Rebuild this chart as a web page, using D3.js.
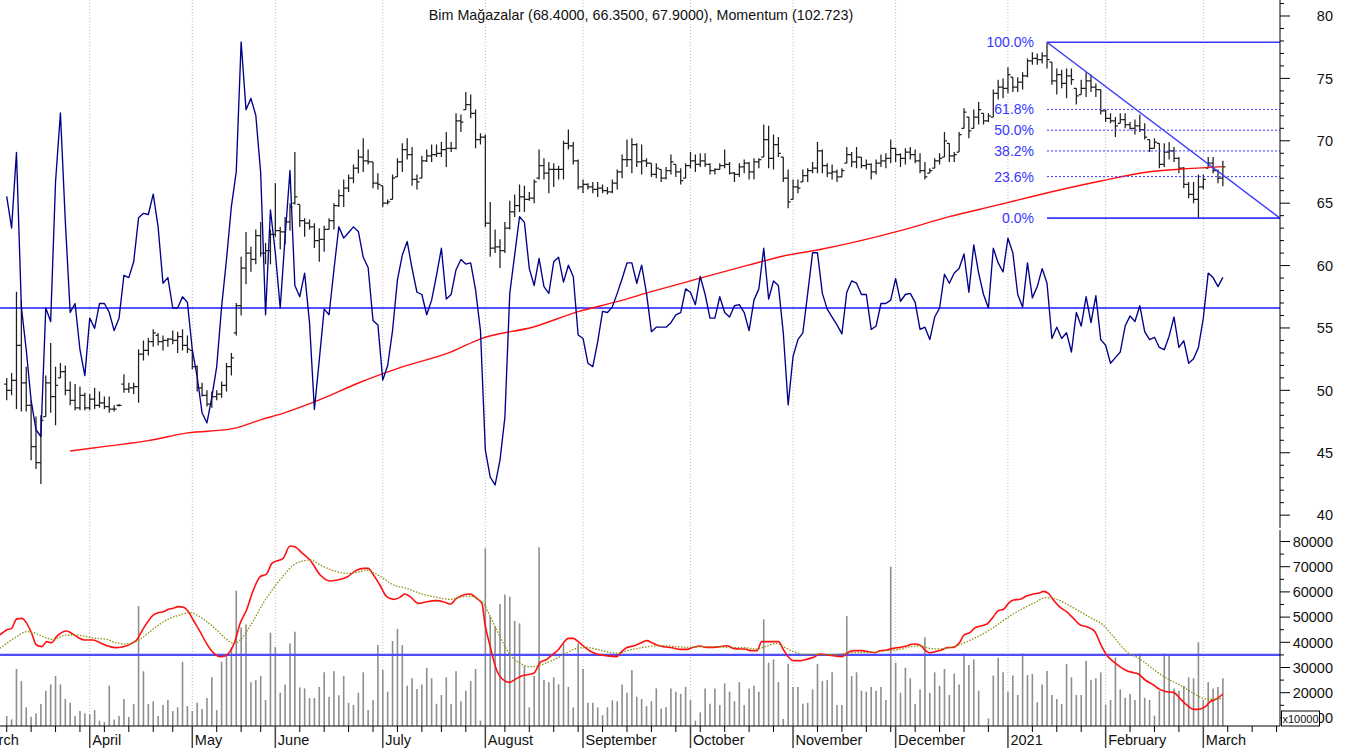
<!DOCTYPE html>
<html><head><meta charset="utf-8">
<script src="https://cdn.jsdelivr.net/npm/d3@7"></script>
<style>
body{margin:0;background:#fff}
svg{display:block}
text{font-family:"Liberation Sans",Arial,Helvetica,sans-serif}
</style></head>
<body><svg id="c" width="1346" height="753"></svg>
<script>
// ---------------- DATA ----------------
const titleText = "Bim Mağazalar (68.4000, 66.3500, 67.9000), Momentum (102.723)";
const high=[51.0,51.4,57.9,57.2,51.9,49.2,47.9,48.0,51.2,53.8,
51.9,52.2,52.0,50.7,50.5,50.3,49.8,49.7,50.2,49.9,
49.5,49.5,48.8,48.9,51.3,50.6,50.6,53.3,54.0,54.2,
54.9,54.6,54.4,54.2,54.8,54.7,54.9,54.4,53.2,52.0,
50.6,50.0,49.9,50.0,50.7,52.2,53.0,57.0,60.7,62.7,
61.5,62.9,63.5,61.8,62.9,66.6,63.1,63.9,65.0,69.1,
64.9,63.8,63.7,63.4,63.0,63.2,63.8,65.0,66.1,66.9,
67.3,68.1,69.3,70.2,69.3,68.3,67.4,66.4,65.3,67.3,
68.6,69.8,70.2,69.5,67.3,68.8,69.3,69.7,69.7,69.9,
70.7,69.9,72.2,72.1,73.9,73.7,72.5,70.6,70.5,65.1,
62.9,62.1,63.5,65.2,65.7,66.5,66.4,65.9,66.9,69.3,
68.6,68.3,68.2,68.0,70.0,70.9,69.9,68.5,66.9,66.6,
66.7,66.7,66.5,66.3,66.9,67.7,68.9,70.1,70.2,69.8,
69.7,68.6,68.2,68.2,67.7,67.9,68.9,68.1,67.8,68.2,
69.1,68.9,69.0,69.0,68.2,67.8,68.2,69.3,68.3,67.5,
68.2,68.5,68.3,68.6,68.6,71.3,71.2,70.5,70.3,68.7,
67.7,66.9,66.9,67.7,67.8,68.3,69.9,69.3,68.2,68.1,
67.7,67.8,69.5,69.1,69.5,68.7,68.5,68.2,68.5,68.9,
69.0,70.1,69.4,69.0,69.4,69.5,69.3,69.0,68.3,67.8,
68.6,69.0,70.7,69.8,69.1,70.7,72.6,71.9,72.5,73.1,
72.2,72.2,74.1,74.9,75.0,75.9,75.1,75.1,75.5,76.6,
77.1,77.0,77.1,77.9,76.3,75.8,75.7,75.8,75.8,74.2,
74.9,75.5,75.3,74.6,74.1,72.5,72.2,71.9,72.2,72.2,
71.5,71.7,72.1,71.4,70.1,70.2,69.8,69.8,69.9,69.5,
68.7,67.9,66.7,66.7,67.3,67.3,68.7,68.7,67.7,68.4];
const low=[49.2,49.6,48.5,48.3,48.3,44.4,43.7,42.5,47.9,48.2,
47.2,51.0,49.6,48.8,48.4,48.4,48.4,48.4,48.5,48.6,
48.5,48.2,48.3,48.7,49.8,49.8,49.7,49.0,52.4,52.8,
53.5,53.6,53.2,53.5,53.7,53.0,53.2,53.0,51.7,49.9,
49.5,48.7,48.6,49.2,49.4,49.9,51.2,54.4,56.0,58.5,
59.5,60.1,60.7,60.1,60.1,62.3,61.3,61.7,62.8,64.9,
63.1,62.3,62.9,61.4,60.3,61.1,62.9,62.9,64.7,64.7,
65.9,66.6,67.4,67.5,68.1,66.2,66.1,64.7,64.9,65.3,
67.1,67.5,68.5,66.4,66.1,67.0,68.3,68.3,68.7,68.7,
67.9,69.1,69.3,70.7,72.5,71.8,69.4,69.7,63.1,60.7,
61.0,59.8,61.0,62.9,63.9,64.3,64.3,65.2,65.0,66.9,
66.9,65.8,66.3,66.9,66.9,69.3,68.1,66.1,65.8,66.1,
65.8,65.5,65.8,65.7,65.8,66.1,67.0,67.9,67.4,67.9,
67.3,67.9,67.1,67.0,66.7,66.9,67.3,67.1,66.5,67.0,
67.8,67.5,67.9,67.9,67.3,67.3,67.7,67.8,67.3,66.7,
67.1,67.4,66.9,66.9,67.8,68.7,67.8,67.7,68.7,66.7,
64.6,65.3,65.8,66.7,66.7,67.4,67.4,67.4,67.1,66.9,
66.7,67.1,68.2,67.9,67.8,67.8,67.7,66.9,67.3,67.9,
67.8,68.2,68.3,67.9,68.1,68.5,68.2,67.4,66.9,67.4,
67.8,68.1,68.7,68.3,68.3,69.1,71.0,70.2,71.0,71.3,
71.3,71.5,71.9,73.3,73.4,73.8,73.9,73.9,74.1,75.1,
76.1,76.1,76.2,75.8,74.5,73.7,74.2,73.4,74.5,72.9,
73.7,73.5,73.9,73.5,72.1,71.5,71.4,70.3,71.4,71.0,
70.9,70.5,70.7,70.1,69.1,69.4,67.8,67.9,68.5,68.3,
67.4,66.2,65.4,65.0,63.8,66.1,67.8,67.4,66.6,66.35];
const open=[50.5,50.0,50.8,53.6,50.6,48.8,45.5,44.2,47.9,50.6,
49.5,51.0,51.5,50.0,49.2,48.6,49.6,48.6,49.3,48.8,
49.0,48.7,48.5,48.8,50.5,50.1,50.2,50.3,52.9,53.2,
53.9,54.4,53.9,54.0,54.1,54.0,54.3,53.6,53.2,51.9,
50.2,49.6,48.9,49.5,49.7,50.4,51.9,54.6,56.8,59.8,
61.0,60.5,62.4,61.0,61.2,62.5,62.8,62.7,63.5,65.0,
64.9,63.6,63.4,63.1,62.0,62.1,62.9,63.6,64.8,65.6,
66.2,67.0,67.8,68.7,68.4,68.3,66.6,66.4,65.0,65.3,
67.1,68.3,69.3,68.9,66.9,67.0,68.4,68.8,68.9,69.0,
69.3,69.4,69.4,71.6,72.5,72.9,72.2,70.1,70.3,63.4,
61.4,61.5,61.2,63.0,64.3,64.8,65.5,65.3,65.4,67.0,
68.0,67.4,67.7,67.7,67.7,69.8,69.6,68.4,66.3,66.5,
66.3,66.1,66.2,66.0,65.9,66.6,67.5,68.5,68.5,69.7,
68.3,68.4,68.2,67.3,67.7,67.0,67.6,68.1,67.5,67.0,
68.0,68.4,68.1,68.4,68.1,67.6,67.7,68.0,68.1,67.4,
67.3,67.9,68.2,67.5,68.3,68.7,70.1,68.6,69.7,68.7,
67.0,65.3,66.3,66.7,67.2,67.6,67.8,69.2,68.0,67.4,
67.5,67.1,68.2,68.9,68.3,68.7,68.0,68.1,67.5,68.2,
68.4,68.6,69.4,68.9,68.6,69.1,68.9,68.4,67.6,67.4,
67.8,68.4,68.7,69.8,68.8,69.1,71.0,71.9,71.0,71.9,
72.2,71.6,71.9,73.8,74.3,74.2,75.1,74.3,74.7,75.2,
76.4,76.6,76.5,76.8,76.3,74.8,75.3,74.6,75.2,74.2,
73.7,74.2,74.8,74.3,74.1,72.4,71.8,71.6,71.4,71.7,
71.3,71.0,71.2,70.9,70.1,69.4,69.8,68.1,69.1,69.2,
68.6,67.8,66.5,65.7,65.3,66.3,67.8,68.2,67.6,67.0];
const close=[50.0,50.8,53.6,50.6,48.8,45.5,44.2,47.6,50.6,49.5,
50.4,51.5,50.0,49.2,48.6,49.6,48.6,49.3,48.8,49.0,
48.7,48.5,48.5,48.8,50.1,50.2,50.3,52.9,53.2,53.9,
54.6,53.9,54.0,54.1,54.0,54.3,53.6,53.3,51.9,50.2,
49.6,48.9,49.5,49.7,50.4,51.9,52.6,56.8,59.8,61.0,
60.5,62.4,61.0,61.2,62.5,62.8,62.7,63.5,64.7,65.5,
63.6,63.4,63.1,62.0,62.1,62.9,63.6,64.8,65.6,66.2,
67.0,67.8,68.7,68.4,68.3,66.6,66.5,65.0,65.1,67.0,
68.3,69.3,68.9,66.9,66.7,68.4,68.8,68.9,69.0,69.3,
69.4,69.4,71.6,71.5,72.9,72.2,70.1,70.3,63.4,61.4,
61.5,61.2,63.0,64.3,64.8,65.5,65.3,65.4,66.7,68.0,
67.4,67.7,67.7,67.7,69.8,69.6,68.4,66.3,66.5,66.3,
66.1,66.2,66.0,65.9,66.6,67.5,68.5,68.5,69.7,68.3,
68.4,68.2,67.3,67.8,67.0,67.6,68.3,67.5,66.8,68.0,
68.4,68.1,68.4,68.1,67.6,67.7,68.0,68.1,67.4,67.3,
67.9,68.2,67.5,68.3,68.5,70.1,68.6,69.7,69.0,67.0,
65.1,66.3,66.2,67.2,67.6,67.8,69.2,68.0,67.4,67.5,
67.1,67.6,68.9,68.3,68.7,68.0,68.1,67.5,68.2,68.4,
68.6,69.4,68.9,68.6,69.1,68.9,68.4,67.6,67.1,67.6,
68.4,68.6,70.0,68.8,68.9,70.5,72.3,70.8,71.9,72.5,
71.6,72.0,73.8,74.3,74.2,75.3,74.3,74.7,75.2,76.4,
76.6,76.5,76.8,76.5,74.8,75.3,74.6,75.2,74.9,73.6,
74.2,74.8,74.3,74.1,72.4,71.8,71.6,71.2,71.7,71.3,
71.0,71.2,70.9,70.3,69.4,69.9,68.1,69.1,69.2,68.6,
67.8,66.5,65.7,65.3,66.3,66.9,68.2,67.6,67.0,67.9];
const momentum=[109.9,107.1,113.8,100.1,96.3,91.8,89.2,88.6,100.0,98.8,
111.2,117.3,107.7,99.6,100.4,96.3,94.0,99.1,98.2,100.4,
100.4,99.6,98.0,99.1,102.9,102.7,104.1,108.0,108.4,108.3,
110.1,107.2,102.2,102.7,100.0,100.0,101.0,100.5,96.3,93.9,
90.7,89.8,92.1,94.8,100.1,104.3,109.0,112.1,123.6,117.6,
118.6,117.1,112.0,99.4,108.7,104.9,100.0,106.3,112.2,102.0,
101.0,103.1,98.7,91.0,95.4,99.9,99.4,103.4,107.2,106.2,
106.7,107.2,106.8,104.5,103.6,98.9,98.5,93.6,94.9,98.0,
102.5,104.7,105.9,103.5,101.4,101.2,99.4,100.7,102.9,105.3,
100.8,101.2,103.4,104.3,103.9,104.0,101.6,98.0,87.4,85.0,
84.3,86.5,90.3,101.3,104.7,108.1,107.6,103.5,102.0,104.4,
101.9,101.3,104.1,104.5,102.3,103.8,102.8,97.6,97.3,95.1,
94.8,97.0,99.7,99.6,100.1,101.3,102.6,104.0,104.0,102.2,
103.8,101.3,97.9,98.3,98.3,98.3,98.7,99.4,99.6,101.7,
101.4,100.3,102.8,101.2,99.1,99.1,101.0,99.6,99.2,100.2,
100.3,99.6,98.0,100.7,101.7,105.3,100.8,102.4,102.0,97.8,
91.4,95.7,97.2,97.8,101.3,104.9,104.9,101.3,99.9,99.2,
98.5,97.7,101.4,102.4,102.2,101.2,101.2,98.1,98.4,100.4,
100.4,100.7,102.6,100.6,101.2,101.3,100.5,98.1,98.3,97.2,
99.2,100.0,103.0,102.2,103.1,103.5,104.8,101.4,105.6,103.1,
101.2,100.0,105.3,104.0,103.2,106.2,104.9,101.2,100.1,104.0,
100.9,101.9,103.5,102.2,97.3,98.3,97.3,97.8,96.1,99.6,
98.4,101.0,98.7,101.1,97.2,96.7,95.1,95.6,96.1,98.4,
99.3,98.8,100.2,97.9,97.2,97.4,96.5,96.3,97.5,99.2,
96.5,97.1,95.1,95.5,96.5,99.1,103.1,102.7,101.9,102.723];
const volume=[10800,9400,29400,24600,14200,10500,11800,15500,20800,23300,
26600,23300,17500,16000,10800,12700,11800,11400,13100,8900,
8400,22800,9400,10800,17500,10400,15500,54400,28500,15500,
16600,10800,15100,17100,12700,14200,32300,14700,12700,16000,
13500,17900,26100,13100,32300,34600,38000,60500,45900,47100,
24100,25000,26600,17100,43800,38100,20000,23300,39500,44200,
22100,21700,17900,17900,22300,28100,18400,28500,19000,26600,
16000,15100,20000,28100,13100,17000,38900,29000,20400,40500,
45300,38900,22800,25700,21500,23300,29900,25700,15600,19100,
26100,
15500,28500,16600,20800,24600,29400,8900,77300,50200,46200,
55200,59000,58100,48500,47500,30700,14200,26600,77700,25000,
24100,26100,23300,39600,22300,14200,39600,29400,16000,16000,
14200,11100,14200,17000,16600,23300,20000,29000,18400,17500,
14700,16600,21700,13700,14200,21700,20400,19500,22300,17000,
8900,12200,21700,15600,21700,15100,23700,20400,16600,24200,
15100,21700,22800,20400,49100,31900,33200,24200,9600,31400,
22300,22300,15600,16000,21300,31400,24600,25000,28100,15100,
15100,50400,26600,28100,20800,20400,22300,20800,22300,17100,
70000,31900,
20000,29900,25700,15500,21300,42000,20000,28100,22800,29400,
19100,27600,23300,35600,31000,33200,20800,6800,9800,26800,
33900,28100,20400,26800,19100,35600,27000,27400,16200,23300,
28600,19100,17500,15500,31400,26100,19100,19100,32700,25000,
25700,28100,15300,17100,33900,21300,18000,19500,17100,35600,
18000,17100,10900,20800,35600,34700,21700,20800,22700,26100,
25700,40000,17100,24200,21700,22300,25700];
// price moving average (bar index, value) as read
const maIdx=[13,21,29,37,46,52,57,64,72,81,91,97,108,117,125,132,142,152,159,166,183,193,203,214,224,234,240,249];
const maVal=[45.14,45.55,45.97,46.59,46.91,47.64,48.22,49.23,50.59,51.88,53.08,54.13,55.1,56.31,57.11,57.91,59.0,60.05,60.77,61.25,62.8,63.92,64.86,65.92,66.78,67.52,67.72,67.93];
// volume moving averages (bar index, value) as read
const volMaFast=[[-1.4,42900],[0,44900],[1,45500],[2,49200],[3.1,49500],[4.1,47500],[5.1,43600],[6.1,38900],[7.2,38300],[8.2,40250],[9.2,39850],[10.2,42230],[11.3,43950],[12.3,44480],[13.3,43560],[14.7,41840],[16,40910],[17.7,40910],[19.1,39850],[20.5,38660],[22.2,37870],[23.9,38260],[25.6,39590],[26.6,40910],[28,45540],[30,50830],[31,51760],[32.1,52150],[33.1,53080],[34.1,53480],[35.1,54140],[36.2,53870],[37.2,52150],[38.2,48840],[39.6,44220],[40.9,39590],[42.3,35880],[43.7,34300],[44.7,34560],[45.7,36280],[46.7,40250],[47.8,47520],[49.1,52810],[50.5,60750],[51.9,66040],[53.2,67100],[54.3,71330],[55.3,72260],[56.6,73320],[58,78210],[59,77940],[60.4,75570],[62.1,72660],[64.2,66700],[66.2,64320],[67.6,64720],[69.6,65780],[71.7,68690],[73,69350],[74,69350],[75.1,66700],[76.4,62730],[77.8,58100],[79.2,57050],[80.5,57840],[81.5,59160],[82.6,58100],[84.3,55460],[86,56120],[88,56520],[89.4,56120],[90.8,55200],[92.1,57440],[93.5,58770],[94.9,59160],[96.2,57440],[97.3,55460],[97.9,47520],[99,38260],[100.3,29010],[101.7,25040],[102.9,24110],[104.1,25300],[105.4,26630],[107.9,27680],[109.2,31910],[110.6,33240],[111.9,35350],[112.9,36940],[114,39850],[115,41570],[116,41570],[117,40250],[118.1,38530],[119.4,36550],[120.8,35350],[122.8,34690],[124.9,34300],[125.9,36280],[126.9,37870],[128.3,38530],[129.7,39590],[131,40650],[132.1,39850],[133.1,38920],[134.4,38260],[136.2,37870],[137.9,37200],[139.2,37200],[140.6,38000],[141.9,38530],[143.3,38000],[144.7,38000],[146,38260],[147.4,38660],[148.8,37600],[150.1,37340],[151.2,37340],[152.2,36680],[153.6,36680],[154.6,40250],[155.9,40250],[158,40250],[159,37200],[160,34300],[161.1,32710],[162.4,32710],[163.8,33240],[165.2,34030],[166.5,35350],[167.9,34960],[169.6,34560],[171,34300],[172,35620],[173.4,36680],[175.1,36680],[176.4,36280],[177.8,35880],[178.8,36680],[180.2,36940],[181.5,37600],[182.9,38000],[184.3,38530],[185.6,39320],[187,38920],[188,36940],[189,35880],[190.1,36280],[191.4,36940],[192.5,37870],[193.8,38000],[195.2,40250],[196,42890],[197.2,43820],[198.1,45540],[199.4,46470],[200.7,47260],[202,50170],[203,52550],[204.1,53080],[205.1,55460],[206.1,56780],[207.5,57050],[208.8,58370],[210.2,59160],[211.6,59690],[212.2,60220],[213.3,59430],[214.3,56780],[215.7,53870],[217,52150],[218.4,49510],[219.8,46860],[221.1,46200],[222.8,44220],[223.9,39590],[225.2,34960],[226.6,32310],[227.9,30330],[229.3,28740],[230.7,27950],[231.7,27420],[233.1,25040],[234.8,23050],[236.1,21330],[237.5,20410],[238.9,20140],[240.2,17760],[241.6,15120],[243,13400],[244,13400],[245.4,14450],[246.4,16440],[247.7,17500],[249,19480]];
const volMaSlow=[[-1.4,37600],[0,39590],[2,42230],[4.1,44220],[5.5,43820],[7.5,42230],[9.5,41170],[12.3,42890],[14.3,42890],[16.4,42230],[18.4,41570],[20.5,41170],[22.2,39850],[24.6,39320],[25.9,39850],[27.3,41170],[29.3,44220],[31.4,47260],[33.4,49510],[35.5,50830],[37.5,51760],[38.9,50830],[41,48180],[43,44880],[45,41170],[46.4,39590],[47.8,40910],[49.1,44220],[50.5,48580],[52.5,55460],[54.6,61410],[56.6,66300],[58.7,70670],[60.7,72260],[62.1,72650],[64.2,70670],[66.9,68420],[69.6,67360],[72.3,68020],[73.7,68690],[75.1,67630],[77.1,65380],[79.2,62730],[81.9,61410],[84.6,59430],[87.4,58100],[90.8,57050],[92.9,57840],[94.9,58370],[96.2,57440],[97.6,55460],[99,50170],[101,42230],[103.1,34960],[105.1,31650],[107.2,30330],[108.9,30720],[110.6,31910],[112.6,33630],[114.7,35880],[116.7,37600],[118.8,38000],[120.8,37200],[122.8,36280],[124.9,35620],[127.6,36940],[130.3,38000],[132.4,38530],[134.4,38660],[137.2,38260],[139.9,38000],[142.6,38260],[145.4,38260],[148.1,37870],[150.8,37870],[153.6,37340],[155.6,38530],[157.7,39590],[159,38260],[161.1,36280],[163.1,35220],[165.8,35220],[169.3,35090],[172.7,35880],[176.1,35880],[179.5,36550],[182.9,37200],[185,38260],[187,38530],[189,37600],[191.1,37340],[193.8,38260],[196.6,40250],[199.4,42890],[202,45800],[204.7,49510],[207.5,52810],[210.2,55460],[212.9,57710],[215,57050],[217,55200],[219.8,52150],[222.5,49110],[223.9,47790],[226.6,42230],[229.3,36280],[232.1,33240],[234.8,29270],[237.5,25700],[240.2,23050],[243,19750],[245,17760],[247.1,17370],[248.8,17760]];
const volumeLevel = 35000;
const momentumLevel = 100;
const monthPos=[-6.3,17,38,55,77,98,118,140,161,182,205,225,245];
const monthNames=["March","April","May","June","July","August","September","October","November","December","2021","February","March"];
const weekPos=[0,5,10,15,20,25,30,34,43,48,52,60,65,70,75,80,85,89,94,102,107,112,117,122,127,132,137,142,147,152,157,166,171,176,181,186,191,196,201,210,215,220,230,235,240,250,255,260];
const priceTicks=d3.range(40,82,1);
const volTicks=d3.range(10000,85000,5000);
const fibPct=[100,61.8,50,38.2,23.6,0];
const fibHighIdx=213, fibLowIdx=244;

// ---------------- LAYOUT ----------------
const svg=d3.select("#c");
const PR=1280, PB=527, VT=530, VB=726;
const x=d3.scaleLinear().domain([-1.372,260.7]).range([0,PR]);
const yP=d3.scaleLinear().domain([39.05,81.282]).range([PB,0]);
const yM=d3.scaleLinear().domain([80.57,127.33]).range([PB,0]);
const yV=d3.scaleLinear().domain([6786,84563]).range([VB,VT]);

const defs=svg.append("defs");
defs.append("clipPath").attr("id","cp").append("rect").attr("x",0).attr("y",0).attr("width",PR).attr("height",PB);
defs.append("clipPath").attr("id","cv").append("rect").attr("x",0).attr("y",VT).attr("width",PR).attr("height",VB-VT);

// grid
svg.append("g").selectAll("line").data(monthPos.slice(1)).join("line")
  .attr("x1",d=>x(d)).attr("x2",d=>x(d)).attr("y1",0).attr("y2",VB)
  .attr("stroke","#bdbdbd").attr("stroke-width",1).attr("stroke-dasharray","1,2");

// title
svg.append("text").attr("x",641).attr("y",20).attr("text-anchor","middle")
  .attr("font-size","14.3px").attr("fill","#111").text(titleText);

// ---------- price panel ----------
const gp=svg.append("g").attr("clip-path","url(#cp)");
gp.append("line").attr("x1",0).attr("x2",PR).attr("y1",yM(momentumLevel)).attr("y2",yM(momentumLevel))
  .attr("stroke","#1a1aff").attr("stroke-width",1.6);
const idx=d3.range(high.length);
gp.append("g").selectAll("path").data(idx).join("path")
  .attr("d",i=>{const cx=x(i);return `M${cx},${yP(high[i])}V${yP(low[i])}M${cx-2.5},${yP(open[i])}H${cx}M${cx},${yP(close[i])}H${cx+2.5}`;})
  .attr("stroke","#1e1e1e").attr("stroke-width",1.25).attr("fill","none");
const maPts=maIdx.map((d,k)=>[d,maVal[k]]);
gp.append("path").datum(maPts).attr("fill","none").attr("stroke","#ff1010").attr("stroke-width",1.4)
  .attr("d",d3.line().curve(d3.curveMonotoneX).x(d=>x(d[0])).y(d=>yP(d[1])));
gp.append("path").datum(momentum).attr("fill","none").attr("stroke","#00008b").attr("stroke-width",1.35)
  .attr("stroke-linejoin","round")
  .attr("d",d3.line().x((d,i)=>x(i)).y(d=>yM(d)));
// fibonacci
const fHi=high[fibHighIdx], fLo=low[fibLowIdx];
const fibCol="#3737ff";
const gf=svg.append("g");
fibPct.forEach(p=>{
  const v=fLo+(fHi-fLo)*p/100, yy=yP(v);
  const solid=(p===0||p===100);
  gf.append("line").attr("x1",x(fibHighIdx)).attr("x2",PR).attr("y1",yy).attr("y2",yy)
    .attr("stroke",fibCol).attr("stroke-width",solid?1.6:1).attr("stroke-dasharray",solid?null:"2,2");
  gf.append("text").attr("x",x(fibHighIdx)-13).attr("y",yy).attr("dy","0.36em").attr("text-anchor","end")
    .attr("font-size","14px").attr("fill",fibCol).text(p.toFixed(1)+"%");
});
gf.append("line").attr("x1",x(fibHighIdx)).attr("y1",yP(fHi)).attr("x2",PR).attr("y2",yP(fLo))
  .attr("stroke",fibCol).attr("stroke-width",1.4);

// ---------- volume panel ----------
const gv=svg.append("g").attr("clip-path","url(#cv)");
gv.append("g").selectAll("line").data(volume).join("line")
  .attr("x1",(d,i)=>x(i)).attr("x2",(d,i)=>x(i)).attr("y1",d=>yV(d)).attr("y2",VB)
  .attr("stroke","#8e8e8e").attr("stroke-width",1.6);
gv.append("line").attr("x1",0).attr("x2",PR).attr("y1",yV(volumeLevel)).attr("y2",yV(volumeLevel))
  .attr("stroke","#4d4dff").attr("stroke-width",2.2);
gv.append("path").datum(volMaFast).attr("fill","none").attr("stroke","#ff1010").attr("stroke-width",1.6)
  .attr("d",d3.line().curve(d3.curveMonotoneX).x(d=>x(d[0])).y(d=>yV(d[1])));
gv.append("path").datum(volMaSlow).attr("fill","none").attr("stroke","#8f8f10").attr("stroke-width",1.3)
  .attr("stroke-dasharray","1.5,1.5")
  .attr("d",d3.line().curve(d3.curveMonotoneX).x(d=>x(d[0])).y(d=>yV(d[1])));

// ---------- axes ----------
const ga=svg.append("g").attr("stroke","#000");
ga.append("line").attr("x1",PR).attr("x2",PR).attr("y1",0).attr("y2",PB+1);
ga.append("line").attr("x1",PR).attr("x2",PR).attr("y1",VT).attr("y2",VB);
ga.append("line").attr("x1",0).attr("x2",PR).attr("y1",VB).attr("y2",VB);
priceTicks.forEach(v=>{
  const yy=yP(v); if(yy<0||yy>PB) return;
  const major=v%5===0;
  ga.append("line").attr("x1",PR).attr("x2",PR+(major?10:4)).attr("y1",yy).attr("y2",yy);
  if(major) svg.append("text").attr("x",1333).attr("y",yy).attr("dy","0.36em").attr("text-anchor","end")
    .attr("font-size","14.5px").attr("fill","#111").text(v);
});
volTicks.forEach(v=>{
  const yy=yV(v); if(yy<VT||yy>VB) return;
  const major=v%10000===0;
  ga.append("line").attr("x1",PR).attr("x2",PR+(major?10:4)).attr("y1",yy).attr("y2",yy);
  if(major) svg.append("text").attr("x",1333).attr("y",yy).attr("dy","0.36em").attr("text-anchor","end")
    .attr("font-size","14.5px").attr("fill","#111").text(v);
});
svg.append("rect").attr("x",1281.5).attr("y",711).attr("width",38).attr("height",15)
  .attr("fill","#fff").attr("stroke","#000").attr("stroke-width",1);
svg.append("text").attr("x",1300.5).attr("y",722.5).attr("text-anchor","middle")
  .attr("font-size","11px").attr("fill","#111").text("x10000");
weekPos.forEach(p=>{
  ga.append("line").attr("x1",x(p)).attr("x2",x(p)).attr("y1",VB).attr("y2",VB+6);
});
monthPos.forEach((p,k)=>{
  ga.append("line").attr("x1",x(p)).attr("x2",x(p)).attr("y1",VB).attr("y2",VB+22)
    .attr("stroke","#444").attr("stroke-width",1.5);
  svg.append("text").attr("x",x(p)+2.5).attr("y",745).attr("font-size","14.5px").attr("fill","#111")
    .text(monthNames[k]);
});
</script>
</body></html>
